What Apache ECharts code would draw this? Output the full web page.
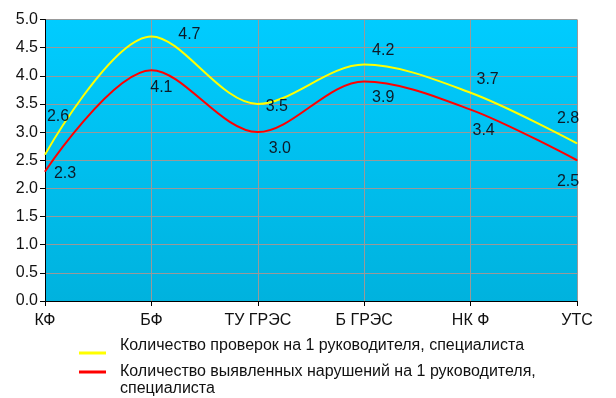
<!DOCTYPE html>
<html>
<head>
<meta charset="utf-8">
<style>
  html, body { margin: 0; padding: 0; background: #fff; }
  #chart { width: 616px; height: 398px; }
</style>
</head>
<body>
<div id="chart"></div>
<script src="https://cdn.jsdelivr.net/npm/echarts@6/dist/echarts.min.js"></script>
<script>
// data
var categories = ['КФ', 'БФ', 'ТУ ГРЭС', 'Б ГРЭС', 'НК Ф', 'УТС'];
var seriesNames = [
    'Количество проверок на 1 руководителя, специалиста',
    'Количество выявленных нарушений на 1 руководителя, специалиста'
];
var checksValues = [2.6, 4.7, 3.5, 4.2, 3.7, 2.8];
var violationsValues = [2.3, 4.1, 3.0, 3.9, 3.4, 2.5];

// where each value label sits relative to its point (px)
var checksLabelOffsets = [[13, -38], [38, -2], [19, 3], [19, -14], [17, -13], [-9, -25]];
var violationsLabelOffsets = [[20, 2], [10, 17], [22, 16], [19, 16], [13, 21], [-9, 21]];

var font = 'Arial, "Liberation Sans", sans-serif';
var textColor = '#111';

function withLabels(values, offsets) {
    return values.map(function (v, i) {
        return { value: v, label: { offset: offsets[i] } };
    });
}

// one legend per series, so each entry can sit where the original puts it
function legendBox(name, top, lineHeight, format) {
    return {
        orient: 'vertical',
        left: 79,
        top: top,
        padding: 0,
        itemWidth: 27,
        itemHeight: 3,
        icon: 'rect',
        selectedMode: false,
        data: [name],
        formatter: format,
        textStyle: {
            fontFamily: font,
            fontSize: 16,
            lineHeight: lineHeight,
            color: textColor,
            padding: [0, 0, 0, 9]
        }
    };
}

var chart = echarts.init(document.getElementById('chart'));

chart.setOption({
    animation: false,
    backgroundColor: '#ffffff',
    textStyle: { fontFamily: font },
    grid: {
        left: 45,
        right: 39,
        top: 19.5,
        bottom: 97,
        show: true,
        borderWidth: 0,
        backgroundColor: new echarts.graphic.LinearGradient(0, 0, 0, 1, [
            { offset: 0, color: '#00ccff' },
            { offset: 1, color: '#00b2de' }
        ])
    },
    legend: [
        // text sits a little above the line sample
        legendBox(seriesNames[0], 338, 14, function (n) { return n + '\n '; }),
        // long name wraps before its last word; line sample level with the first row
        legendBox(seriesNames[1], 346.5, 17, function (n) { return ' \n' + n.replace(', ', ',\n'); })
    ],
    xAxis: {
        type: 'category',
        data: categories,
        boundaryGap: false,
        axisLine: { lineStyle: { color: '#000', width: 1 } },
        axisTick: { show: true, length: 5, lineStyle: { color: '#000' } },
        axisLabel: { fontFamily: font, fontSize: 16, color: textColor, margin: 12 },
        splitLine: { show: true, lineStyle: { color: '#999999', width: 1 } }
    },
    yAxis: {
        type: 'value',
        min: 0,
        max: 5,
        interval: 0.5,
        axisLine: { show: true, lineStyle: { color: '#000', width: 1 } },
        axisTick: { show: true, length: 5, lineStyle: { color: '#000' } },
        axisLabel: {
            fontFamily: font,
            fontSize: 16,
            color: textColor,
            margin: 7,
            formatter: function (v) { return v.toFixed(1); }
        },
        splitLine: { show: true, lineStyle: { color: '#999999', width: 1 } }
    },
    series: [
        {
            name: seriesNames[0],
            type: 'line',
            smooth: 0.33,
            data: withLabels(checksValues, checksLabelOffsets),
            symbol: 'circle',
            symbolSize: 1,
            itemStyle: { color: '#ffff00' },
            lineStyle: { color: '#ffff00', width: 2 },
            label: {
                show: true,
                position: 'inside',
                fontFamily: font,
                fontSize: 16,
                color: '#0d1a28',
                formatter: function (p) { return p.value.toFixed(1); }
            },
            z: 3
        },
        {
            name: seriesNames[1],
            type: 'line',
            smooth: 0.33,
            data: withLabels(violationsValues, violationsLabelOffsets),
            symbol: 'circle',
            symbolSize: 1,
            itemStyle: { color: '#ff0000' },
            lineStyle: { color: '#ff0000', width: 2 },
            label: {
                show: true,
                position: 'inside',
                fontFamily: font,
                fontSize: 16,
                color: '#0d1a28',
                formatter: function (p) { return p.value.toFixed(1); }
            },
            z: 2
        }
    ]
});
</script>
</body>
</html>
